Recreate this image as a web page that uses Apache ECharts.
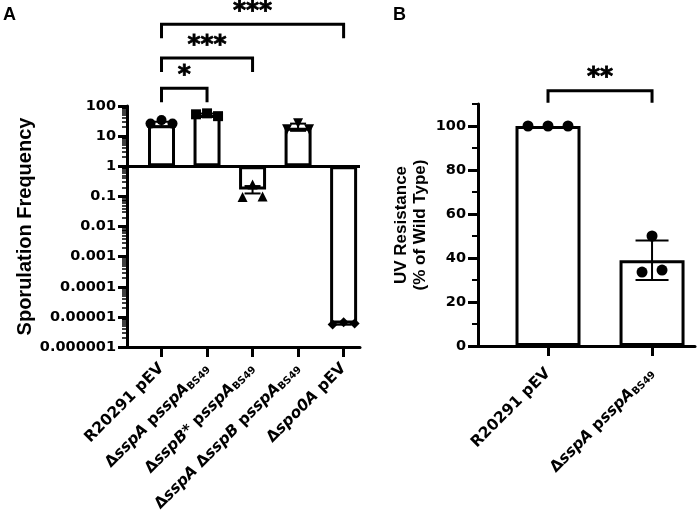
<!DOCTYPE html>
<html><head><meta charset="utf-8">
<script src="https://cdn.jsdelivr.net/npm/echarts@6/dist/echarts.min.js"></script>
<style>html,body{margin:0;padding:0;background:#fff}#c{width:697px;height:529px}</style>
</head><body><div id="c"></div>
<script>
// ---------- Panel A data ----------
const labelsA = ['R20291 pEV', 'Δ{i|sspA} p{i|sspA}{s|BS49}', 'Δ{i|sspB*} p{i|sspA}{s|BS49}', 'Δ{i|sspA} Δ{i|sspB} p{i|sspA}{s|BS49}', 'Δ{i|spo0A} pEV'];
const meanA = [23, 50, 0.17, 19, 6e-6];
const lowA  = [21, 46, 0.125, 15, 5.5e-6];
const highA = [30, 56, 0.22, 26, 6.6e-6];
const rep1A = [26, 53, 0.095, 17, 5.6e-6];
const rep2A = [34, 57, 0.25, 27, 6.6e-6];
const rep3A = [26, 46, 0.1, 17, 6.0e-6];
const symbolsA = ['circle', 'rect', 'triangle', 'triangle', 'diamond'];
const symRotA = [0, 0, 0, 180, 0];
const yTicksA = [1e-6, 1e-5, 1e-4, 1e-3, 0.01, 0.1, 1, 10, 100];
const yTickLabelsA = ['0.000001', '0.00001', '0.0001', '0.001', '0.01', '0.1', '1', '10', '100'];
const sigPairsA = [[0, 1], [0, 2], [0, 4]];
const sigLevelA = [390, 3900, 52000];
const sigTextA = ['*', '***', '***'];

// ---------- Panel B data ----------
const labelsB = ['R20291 pEV', 'Δ{i|sspA} p{i|sspA}{s|BS49}'];
const meanB = [100, 39];
const lowB  = [100, 30];
const highB = [100, 48];
const rep1B = [100, 33.6];
const rep2B = [100, 50];
const rep3B = [100, 34.5];
const yTicksB = [0, 20, 40, 60, 80, 100];
const yMinorB = [10, 30, 50, 70, 90, 110];
const sigPairsB = [[0, 1]];
const sigLevelB = [116];
const sigTextB = ['**'];

// ---------- styles ----------
const TF = 'DejaVu Sans';
const HF = 'Liberation Sans';
const jitterA = [11, 11, 10, 11, 11];
const jitterB = [20, 10];

const minorA = [];
for (let e = -6; e < 2; e++) for (let k = 2; k <= 9; k++) minorA.push(k * Math.pow(10, e));

const richX = {
  i: {fontFamily: TF, fontWeight: 'bold', fontStyle: 'italic', fontSize: 15.5, color: '#000'},
  s: {fontFamily: TF, fontWeight: 'bold', fontSize: 10, color: '#000', verticalAlign: 'bottom', padding: [6, 0, 0, 0]}
};

function xAxisCfg(grid, min, max, labels, margin) {
  const vals = labels.map((_, i) => i);
  return {
    type: 'value', gridIndex: grid, min: min, max: max,
    axisLine: {onZero: false, lineStyle: {color: '#000', width: 3}},
    axisTick: {customValues: vals, length: 10, lineStyle: {color: '#000', width: 3}},
    axisLabel: {customValues: vals, rotate: 45, margin: margin, color: '#000', fontFamily: TF, fontWeight: 'bold', fontSize: 15.5,
      formatter: v => labels[Math.round(v)], rich: richX},
    splitLine: {show: false}
  };
}

function errRender(capW) {
  return function (params, api) {
    const lo = api.coord([api.value(0), api.value(1)]);
    const hi = api.coord([api.value(0), api.value(2)]);
    if (Math.abs(lo[1] - hi[1]) < 0.5) return null;
    const st = {stroke: '#000', lineWidth: 2};
    return {type: 'group', children: [
      {type: 'line', shape: {x1: lo[0], y1: lo[1], x2: hi[0], y2: hi[1]}, style: st},
      {type: 'line', shape: {x1: lo[0] - capW / 2, y1: lo[1], x2: lo[0] + capW / 2, y2: lo[1]}, style: st},
      {type: 'line', shape: {x1: hi[0] - capW / 2, y1: hi[1], x2: hi[0] + capW / 2, y2: hi[1]}, style: st}
    ]};
  };
}

function sigRender(texts, drop) {
  return function (params, api) {
    const a = api.coord([api.value(0), api.value(2)]);
    const b = api.coord([api.value(1), api.value(2)]);
    return {type: 'group', children: [
      {type: 'polyline', shape: {points: [[a[0], a[1] + drop], [a[0], a[1]], [b[0], b[1]], [b[0], b[1] + drop]]},
        style: {stroke: '#000', lineWidth: 3, fill: null}},
      {type: 'text', style: {text: texts[params.dataIndex], x: (a[0] + b[0]) / 2, y: a[1] - 13,
        align: 'center', verticalAlign: 'middle', font: 'bold 25px "DejaVu Sans"', fill: '#000',
        stroke: '#000', lineWidth: 0.8}}
    ]};
  };
}

function scatterSeries(xi, yi, reps, sym, rot, jitter, sign, size) {
  return {
    type: 'scatter', xAxisIndex: xi, yAxisIndex: yi, z: 5, symbolSize: size,
    itemStyle: {color: '#000', opacity: 1},
    data: reps.map((v, i) => ({value: [i, v], symbol: sym[i], symbolRotate: rot[i], symbolOffset: [sign * jitter[i], 0]}))
  };
}

const chart = echarts.init(document.getElementById('c'));
chart.setOption({
  animation: false,
  backgroundColor: '#fff',
  grid: [
    {left: 127, top: 106, width: 233, height: 241, containLabel: false, outerBoundsMode: 'none'},
    {left: 478, top: 104, width: 217, height: 242, containLabel: false, outerBoundsMode: 'none'}
  ],
  xAxis: [
    xAxisCfg(0, -0.758, 4.36, labelsA, 19),
    xAxisCfg(1, -0.673, 1.413, labelsB, 25)
  ],
  yAxis: [
    {type: 'log', logBase: 10, gridIndex: 0, position: 'left', min: 1e-6, max: 100,
      axisLine: {onZero: false, lineStyle: {color: '#000', width: 3}},
      axisTick: {customValues: yTicksA, length: 9, lineStyle: {color: '#000', width: 3}},
      axisLabel: {customValues: yTicksA, margin: 11, color: '#000', fontFamily: TF, fontWeight: 'bold', fontSize: 14.5,
        formatter: v => yTickLabelsA[Math.round(Math.log10(v)) + 6]},
      splitLine: {show: false},
      name: 'Sporulation Frequency', nameLocation: 'middle', nameGap: 92,
      nameTextStyle: {fontFamily: HF, fontWeight: 'bold', fontSize: 20, color: '#000'}},
    {type: 'log', logBase: 10, gridIndex: 0, position: 'left', min: 1e-6, max: 100,
      axisLine: {show: false, onZero: false},
      axisTick: {customValues: minorA, length: 5, lineStyle: {color: '#000', width: 1.5}},
      axisLabel: {show: false}, splitLine: {show: false}},
    {type: 'value', gridIndex: 1, position: 'left', min: 0, max: 110,
      axisLine: {onZero: false, lineStyle: {color: '#000', width: 3}},
      axisTick: {customValues: yTicksB, length: 10, lineStyle: {color: '#000', width: 3}},
      axisLabel: {customValues: yTicksB, margin: 12, color: '#000', fontFamily: TF, fontWeight: 'bold', fontSize: 14.5},
      splitLine: {show: false},
      name: 'UV Resistance\n(% of Wild Type)', nameLocation: 'middle', nameGap: 48,
      nameTextStyle: {fontFamily: HF, fontWeight: 'bold', fontSize: 17, lineHeight: 19, color: '#000'}},
    {type: 'value', gridIndex: 1, position: 'left', min: 0, max: 110,
      axisLine: {show: false, onZero: false},
      axisTick: {customValues: yMinorB, length: 6, lineStyle: {color: '#000', width: 2}},
      axisLabel: {show: false}, splitLine: {show: false}}
  ],
  graphic: [
    {type: 'text', left: 3, top: 6, style: {text: 'A', font: 'bold 18px "Liberation Sans"', fill: '#000'}},
    {type: 'text', left: 393, top: 6, style: {text: 'B', font: 'bold 18px "Liberation Sans"', fill: '#000'}}
  ],
  series: [
    {type: 'bar', xAxisIndex: 0, yAxisIndex: 0, barWidth: 27, z: 2,
      itemStyle: {color: '#fff', borderColor: '#000', borderWidth: 3},
      data: meanA.map((v, i) => [i, v]),
      markLine: {silent: true, symbol: ['none', 'none'], label: {show: false},
        lineStyle: {color: '#000', width: 3, type: 'solid'}, data: [{yAxis: 1}]}},
    {type: 'custom', xAxisIndex: 0, yAxisIndex: 0, z: 3, renderItem: errRender(16),
      encode: {x: 0, y: [1, 2]}, data: meanA.map((_, i) => [i, lowA[i], highA[i]])},
    scatterSeries(0, 0, rep1A, symbolsA, symRotA, jitterA, -1, 10),
    scatterSeries(0, 0, rep2A, symbolsA, symRotA, jitterA, 0, 10),
    scatterSeries(0, 0, rep3A, symbolsA, symRotA, jitterA, 1, 10),
    {type: 'custom', xAxisIndex: 0, yAxisIndex: 0, z: 4, renderItem: sigRender(sigTextA, 14),
      encode: {x: [0, 1], y: 2}, data: sigPairsA.map((p, i) => [p[0], p[1], sigLevelA[i]])},

    {type: 'bar', xAxisIndex: 1, yAxisIndex: 2, barWidth: 65, z: 2,
      itemStyle: {color: '#fff', borderColor: '#000', borderWidth: 3},
      data: meanB.map((v, i) => [i, v])},
    {type: 'custom', xAxisIndex: 1, yAxisIndex: 2, z: 3, renderItem: errRender(33),
      encode: {x: 0, y: [1, 2]}, data: meanB.map((_, i) => [i, lowB[i], highB[i]])},
    scatterSeries(1, 2, rep1B, ['circle', 'circle'], [0, 0], jitterB, -1, 11),
    scatterSeries(1, 2, rep2B, ['circle', 'circle'], [0, 0], jitterB, 0, 11),
    scatterSeries(1, 2, rep3B, ['circle', 'circle'], [0, 0], jitterB, 1, 11),
    {type: 'custom', xAxisIndex: 1, yAxisIndex: 2, z: 4, renderItem: sigRender(sigTextB, 12),
      encode: {x: [0, 1], y: 2}, data: sigPairsB.map((p, i) => [p[0], p[1], sigLevelB[i]])}
  ]
});
</script>
</body></html>
